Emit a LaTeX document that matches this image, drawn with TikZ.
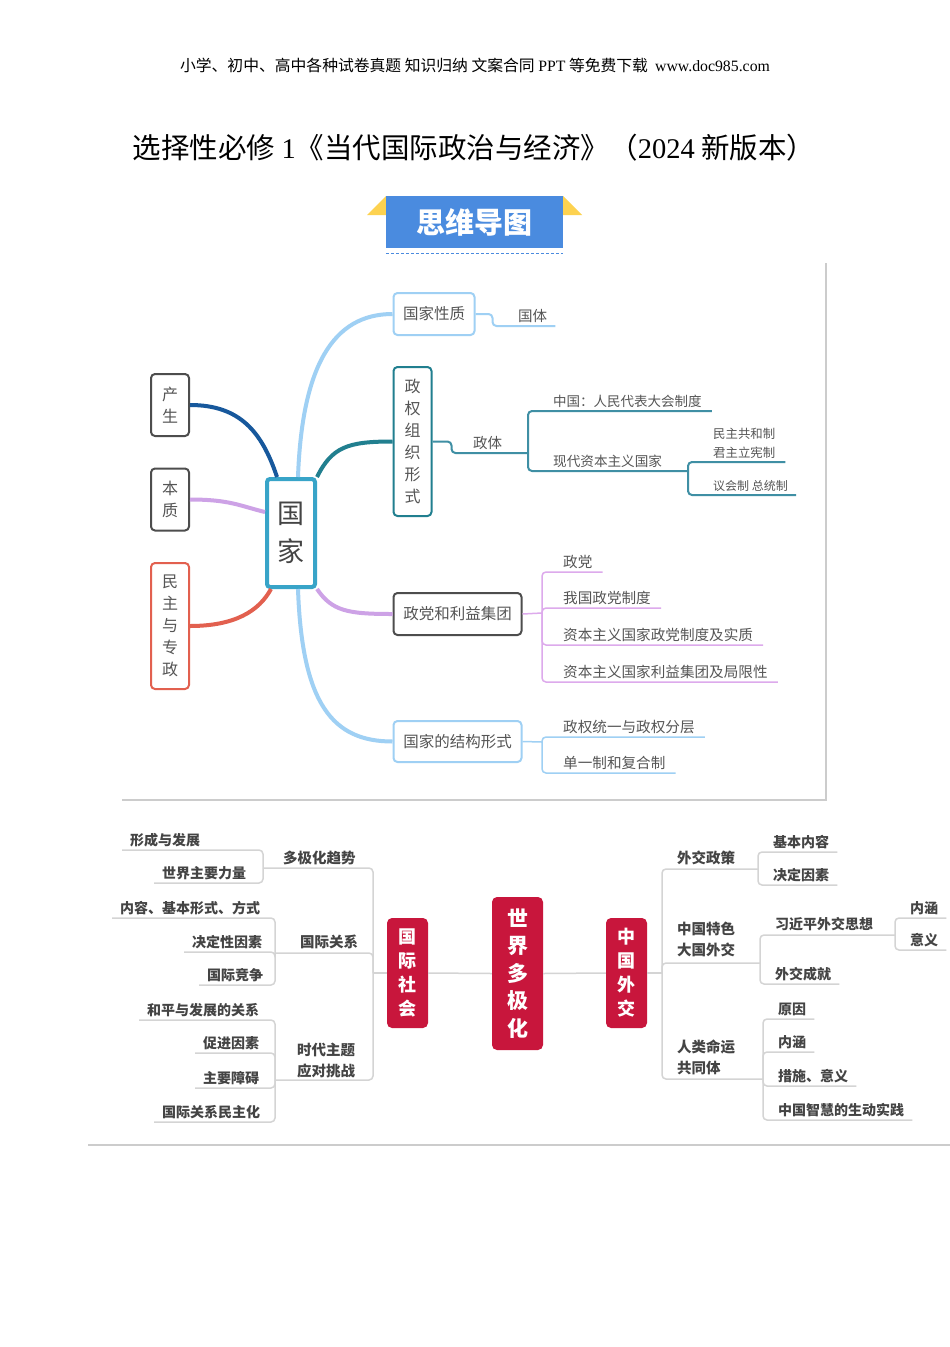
\documentclass[tikz,border=0pt]{standalone}
\usepackage{fontspec}
\setmainfont{Noto Sans CJK SC}
\newfontfamily\latinserif{Liberation Serif}
\usepackage{xcolor}
\usepackage{tikz}

\definecolor{hubblue}{HTML}{38A4C8}
\definecolor{navyline}{HTML}{17589C}
\definecolor{skyline}{HTML}{9FD0F4}
\definecolor{tealline}{HTML}{217F8F}
\definecolor{tealsub}{HTML}{3F8FA4}
\definecolor{lilac}{HTML}{CDA2E6}
\definecolor{lilacsub}{HTML}{DDAAEC}
\definecolor{coral}{HTML}{E2604F}
\definecolor{boxgray}{HTML}{4D4D4D}
\definecolor{txtgray}{HTML}{555555}
\definecolor{darktext}{HTML}{444444}
\definecolor{branchgray}{HTML}{D4D4D4}
\definecolor{framegray}{HTML}{CCCCCC}
\definecolor{crimson}{HTML}{C8163C}
\definecolor{badgeblue}{HTML}{4A8BDF}
\definecolor{badgegold}{HTML}{FDD250}

\tikzset{
  vbox/.style={draw, rounded corners=4pt, line width=2pt, fill=white, text=txtgray, align=center, inner sep=0pt, font=\fontsize{16}{22}\selectfont},
  hbox/.style={draw, rounded corners=4pt, line width=2pt, fill=white, text=txtgray, inner sep=0pt, font=\fontsize{15.5}{18}\selectfont},
  limb/.style={line width=4pt},
  twig/.style={line width=2pt, rounded corners=4pt},
  uleaf/.style={anchor=south west, inner xsep=10pt, inner ysep=3pt, text=txtgray, align=left, font=\fontsize{14.6}{18}\selectfont},
  redbox/.style={fill=crimson, rounded corners=5pt, text=white, align=center, inner sep=0pt, font=\bfseries\fontsize{18}{24}\selectfont},
  lleaf/.style={anchor=south west, inner xsep=8pt, inner ysep=3pt, text=darktext, font=\bfseries\fontsize{14}{18}\selectfont},
  lhead/.style={anchor=west, inner xsep=0pt, text=darktext, align=left, font=\bfseries\fontsize{14.5}{21}\selectfont},
  gline/.style={branchgray, line width=1.5pt, rounded corners=4pt},
}

\begin{document}
\begin{tikzpicture}[x=1pt,y=1pt,yscale=-1,xscale=1]
\useasboundingbox[fill=white] (0,0) rectangle (950,1347);

% Header and title
\node (hdr) at (475,65) {\fontsize{15.8}{18}\selectfont 小学、初中、高中各种试卷真题 知识归纳 文案合同 {\latinserif PPT} 等免费下载\ \ {\latinserif www.doc985.com}};
\node (ttl) at (474,148) {\fontsize{28.5}{32}\selectfont 选择性必修 {\latinserif 1}《当代国际政治与经济》（{\latinserif 2024} 新版本）};

% Badge
\fill[badgegold] (367,215) -- (386,196) -- (386,215) -- cycle;
\fill[badgegold] (582,215) -- (563,196) -- (563,215) -- cycle;
\node[fill=badgeblue, minimum width=177pt, minimum height=52pt, inner sep=0pt, text=white, font=\bfseries\fontsize{29}{32}\selectfont] (badge) at (474.5,222) {思维导图};
\draw[badgeblue, line width=1pt, dash pattern=on 3pt off 2pt] ([yshift=5pt]badge.south west) -- ([yshift=5pt]badge.south east);

% Frame of the upper map
\draw[framegray, line width=1.2pt] (826,263) -- (826,800) -- (122,800);

% Upper map: boxes
\node[draw=hubblue, line width=4pt, rounded corners=3pt, fill=white, minimum width=48pt, minimum height=108pt, inner sep=0pt, align=center, text=darktext, font=\fontsize{27}{38}\selectfont] (gj) at (291,533) {国\\家};
\node[vbox, draw=boxgray, minimum width=38pt, minimum height=62pt] (cs) at (170,405) {产\\生};
\node[vbox, draw=boxgray, minimum width=38pt, minimum height=62pt] (bz) at (170,499.5) {本\\质};
\node[vbox, draw=coral, minimum width=38pt, minimum height=126pt] (mz) at (170,626) {民\\主\\与\\专\\政};
\node[hbox, draw=skyline, minimum width=81pt, minimum height=42pt] (xz) at (434,314) {国家性质};
\node[vbox, draw=tealline, minimum width=38pt, minimum height=149pt] (zq) at (412.5,441.5) {政\\权\\组\\织\\形\\式};
\node[hbox, draw=boxgray, minimum width=128pt, minimum height=42pt] (zd) at (457.5,614) {政党和利益集团};
\node[hbox, draw=skyline, minimum width=128pt, minimum height=41pt] (jg) at (457.5,741.5) {国家的结构形式};

% Upper map: main limbs
\draw[limb, navyline] (cs.east) .. controls +(50,0) and +(-15,-45) .. ([xshift=-14pt]gj.north);
\draw[limb, lilac] (bz.east) .. controls +(40,0) and +(-25,-6) .. ([yshift=-21pt]gj.west);
\draw[limb, coral] (mz.east) .. controls +(45,0) and +(-12,22) .. ([xshift=-20pt]gj.south);
\draw[limb, skyline] ([xshift=7pt]gj.north) .. controls +(4,-110) and +(-60,0) .. (xz.west);
\draw[limb, tealline] (gj.north east) .. controls +(15,-30) and +(-45,0) .. (zq.west);
\draw[limb, lilac] (gj.south east) .. controls +(15,22) and +(-45,0) .. (zd.west);
\draw[limb, skyline] ([xshift=7pt]gj.south) .. controls +(4,115) and +(-60,0) .. (jg.west);

% Upper map: leaves
\coordinate (jz) at (528,453);
\coordinate (jx) at (688,471);
\coordinate (jp) at (542,613);
\coordinate (jb) at (542,742);
\node[uleaf, inner xsep=8pt, font=\fontsize{14.5}{18}\selectfont] (gt) at (510,326) {国体};
\node[lhead, text=txtgray, font=\fontsize{14.5}{18}\selectfont] (zt) at (473,443) {政体};
\node[uleaf, font=\fontsize{13.5}{18}\selectfont] (zg) at (543,411) {中国：人民代表大会制度};
\node[uleaf, font=\fontsize{13.6}{18}\selectfont] (xd) at (543,471) {现代资本主义国家};
\node[uleaf, font=\fontsize{12.4}{19}\selectfont] (mg) at (703,462) {民主共和制\\君主立宪制};
\node[uleaf, inner xsep=8pt, font=\fontsize{12}{18}\selectfont] (yh) at (705,495) {议会制 总统制};
\node[uleaf] (zdg) at (553,572) {政党};
\node[uleaf] (wg) at (553,608) {我国政党制度};
\node[uleaf] (zbz) at (553,645) {资本主义国家政党制度及实质};
\node[uleaf] (zbl) at (553,682) {资本主义国家利益集团及局限性};
\node[uleaf] (zqt) at (553,737) {政权统一与政权分层};
\node[uleaf] (dy) at (553,773) {单一制和复合制};

\draw[twig, skyline] (xz.east) -- ++(17,0) |- (gt.south east);
\draw[twig, tealsub] (zq.east) -- ++(19,0) |- (jz);
\draw[twig, tealsub] (jz) |- (zg.south east);
\draw[twig, tealsub] (jz) |- (jx);
\draw[twig, tealsub] (jx) |- (mg.south east);
\draw[twig, tealsub] (jx) |- (yh.south east);
\draw[twig, lilacsub, line width=1.5pt] (zd.east) -- (jp);
\foreach \n in {zdg,wg,zbz,zbl}
  \draw[twig, lilacsub, line width=1.5pt] (jp) |- (\n.south east);
\draw[twig, skyline, line width=1.5pt] (jg.east) -- (jb);
\foreach \n in {zqt,dy}
  \draw[twig, skyline, line width=1.5pt] (jb) |- (\n.south east);

% Lower map: red centre nodes
\node[redbox, minimum width=41pt, minimum height=110pt] (gs) at (407.5,973) {国\\际\\社\\会};
\node[redbox, minimum width=51pt, minimum height=153pt, font=\bfseries\fontsize{21}{27.5}\selectfont] (sj) at (517.5,973.5) {世\\界\\多\\极\\化};
\node[redbox, minimum width=41pt, minimum height=110pt] (zw) at (626.5,973) {中\\国\\外\\交};
\draw[gline] (gs.east) -- (sj.west);
\draw[gline] (sj.east) -- (zw.west);

% Lower map: left side
\coordinate (jl) at (373,973);
\coordinate (d1) at (263,868);
\coordinate (d2) at (275,953);
\coordinate (d3) at (275,1080);
\node[lhead] (dj) at (283,858) {多极化趋势};
\node[lhead] (gg) at (300,942) {国际关系};
\node[lhead] (sd) at (297,1061) {时代主题\\应对挑战};
\node[lleaf] (xcfz) at (122,850) {形成与发展};
\node[lleaf] (sjll) at (154,883) {世界主要力量};
\node[lleaf] (nr) at (112,918) {内容、基本形式、方式};
\node[lleaf] (jdx) at (184,952) {决定性因素};
\node[lleaf] (jz2) at (199,985) {国际竞争};
\node[lleaf] (hp) at (139,1020) {和平与发展的关系};
\node[lleaf] (cj) at (195,1053) {促进因素};
\node[lleaf] (za) at (195,1088) {主要障碍};
\node[lleaf] (mzh) at (154,1122) {国际关系民主化};

\draw[gline] (gs.west) -- (jl);
\foreach \d in {d1,d2,d3}
  \draw[gline] (jl) |- (\d);
\foreach \n in {xcfz,sjll}
  \draw[gline] (d1) |- (\n.south west);
\foreach \n in {nr,jdx,jz2}
  \draw[gline] (d2) |- (\n.south west);
\foreach \n in {hp,cj,za,mzh}
  \draw[gline] (d3) |- (\n.south west);

% Lower map: right side
\coordinate (jr) at (662,973);
\coordinate (e1) at (758,869);
\coordinate (e2) at (760,963);
\coordinate (e3) at (763,1079);
\coordinate (e4) at (895,935);
\node[lhead] (wz) at (677,858) {外交政策};
\node[lhead] (ts) at (677,939.5) {中国特色\\大国外交};
\node[lhead] (rl) at (677,1057.5) {人类命运\\共同体};
\node[lhead, font=\bfseries\fontsize{14}{18}\selectfont] (xj) at (775,924) {习近平外交思想};
\node[lleaf] (jbnr) at (765,852) {基本内容};
\node[lleaf] (jdys) at (765,885) {决定因素};
\node[lleaf] (wjcj) at (767,984) {外交成就};
\node[lleaf] (nh1) at (902,918) {内涵};
\node[lleaf] (yy) at (902,950) {意义};
\node[lleaf] (yyin) at (770,1019) {原因};
\node[lleaf] (nh2) at (770,1052) {内涵};
\node[lleaf] (cs2) at (770,1086) {措施、意义};
\node[lleaf] (zh) at (770,1120) {中国智慧的生动实践};

\draw[gline] (zw.east) -- (jr);
\foreach \e in {e1,e2,e3}
  \draw[gline] (jr) |- (\e);
\foreach \n in {jbnr,jdys}
  \draw[gline] (e1) |- (\n.south east);
\draw[gline] (e2) |- (e4);
\draw[gline] (e2) |- (wjcj.south east);
\foreach \n in {nh1,yy}
  \draw[gline] (e4) |- (\n.south east);
\foreach \n in {yyin,nh2,cs2,zh}
  \draw[gline] (e3) |- (\n.south east);

% Bottom rule
\draw[framegray, line width=1.2pt] (88,1145) -- (950,1145);
\end{tikzpicture}
\end{document}
